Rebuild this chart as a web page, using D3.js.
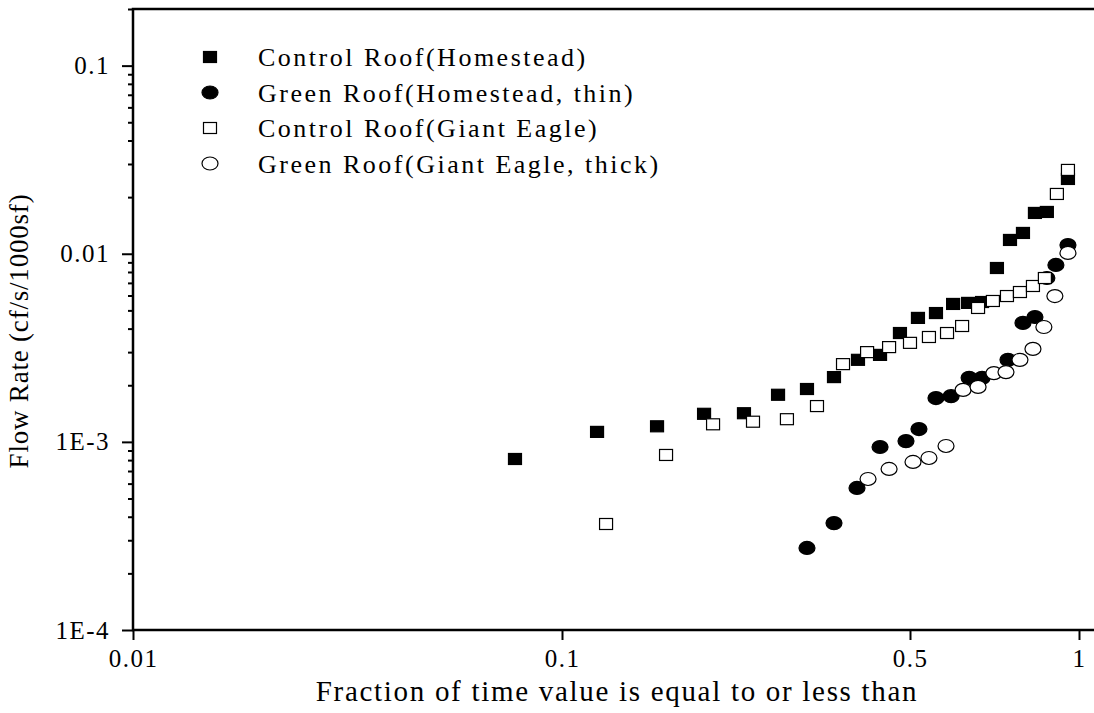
<!DOCTYPE html>
<html>
<head>
<meta charset="utf-8">
<script src="https://cdn.jsdelivr.net/npm/d3@7"></script>
<style>
  body { margin: 0; background: #fff; }
  text { font-family: "Liberation Serif", "Times New Roman", serif; fill: #000; }
</style>
</head>
<body>
<script>
const w = 1094;
const h = 713;

// series: [fraction, flow rate]
const controlHomestead = [
  [0.0777, 0.000811], [0.1176, 0.00113], [0.1552, 0.00121], [0.1929, 0.00141],
  [0.2320, 0.00142], [0.2716, 0.00178], [0.3105, 0.00191], [0.3518, 0.00221],
  [0.3931, 0.00273], [0.4353, 0.00290], [0.4773, 0.00379], [0.5166, 0.00456],
  [0.5562, 0.00484], [0.5967, 0.00541], [0.6345, 0.00548], [0.6720, 0.00554],
  [0.7142, 0.00840], [0.7535, 0.01184], [0.7947, 0.01290], [0.8347, 0.01648],
  [0.8765, 0.01668], [0.9557, 0.02498]
];
const greenHomestead = [
  [0.3105, 0.000273], [0.3518, 0.000370], [0.3913, 0.000569], [0.4353, 0.000939],
  [0.4908, 0.00101], [0.5187, 0.00117], [0.5562, 0.00171], [0.5918, 0.00175],
  [0.6372, 0.00219], [0.6720, 0.00219], [0.7473, 0.00273], [0.7947, 0.00429],
  [0.8347, 0.00461], [0.8765, 0.00743], [0.9096, 0.00872], [0.9557, 0.01113]
];
const controlGiantEagle = [
  [0.1226, 0.000366], [0.1618, 0.000852], [0.2011, 0.00124], [0.2419, 0.00128],
  [0.2830, 0.00132], [0.3252, 0.00155], [0.3668, 0.00259], [0.4100, 0.00300],
  [0.4539, 0.00319], [0.5000, 0.00336], [0.5404, 0.00361], [0.5820, 0.00379],
  [0.6191, 0.00413], [0.6610, 0.00515], [0.7025, 0.00561], [0.7442, 0.00596],
  [0.7849, 0.00626], [0.8279, 0.00674], [0.8694, 0.00743], [0.9133, 0.02079],
  [0.9557, 0.02790]
];
const greenGiantEagle = [
  [0.4118, 0.000635], [0.4539, 0.000718], [0.5062, 0.000782], [0.5404, 0.000821],
  [0.5796, 0.000951], [0.6217, 0.00189], [0.6610, 0.00196], [0.7054, 0.00232],
  [0.7412, 0.00235], [0.7849, 0.00273], [0.8279, 0.00312], [0.8658, 0.00408],
  [0.9058, 0.00596], [0.9557, 0.01010]
];

const seriesNames = [
  "Control Roof(Homestead)",
  "Green Roof(Homestead, thin)",
  "Control Roof(Giant Eagle)",
  "Green Roof(Giant Eagle, thick)"
];
const xTicks = [0.01, 0.1, 0.5, 1];
const xTickLabels = ["0.01", "0.1", "0.5", "1"];
const yTicks = [0.0001, 0.001, 0.01, 0.1];
const yTickLabels = ["1E-4", "1E-3", "0.01", "0.1"];

const series = [
  { data: controlHomestead, shape: 'square', fill: '#000' },
  { data: greenHomestead, shape: 'circle', fill: '#000' },
  { data: controlGiantEagle, shape: 'square', fill: '#fff' },
  { data: greenGiantEagle, shape: 'circle', fill: '#fff' }
];

const pLeft = 133, pRight = 1094, pTop = 9, pBottom = 630;

const svg = d3.select('body').append('svg').attr('width', w).attr('height', h);
svg.append('rect').attr('width', w).attr('height', h).attr('fill', '#fff');

// x axis of the original is stretched unevenly between its labelled ticks
const xScale = d3.scaleLog()
  .domain([0.01, 0.1, 0.5, 1, 1.063])
  .range([pLeft, 562, 910, 1079, pRight]);
const yScale = d3.scaleLog()
  .domain([0.0001, 0.2]).range([pBottom, pTop]);

// minor y ticks
const minor = [];
[0.0001, 0.001, 0.01, 0.1].forEach(d => {
  for (let k = 2; k <= 9; k++) if (d * k <= 0.2) minor.push(d * k);
});

svg.append('g')
  .attr('transform', 'translate(' + pLeft + ',0)')
  .call(d3.axisLeft(yScale).tickValues(minor).tickSize(5).tickFormat(''))
  .call(g => g.select('.domain').remove())
  .selectAll('line').attr('stroke', '#000').attr('stroke-width', 2);

const yAxis = svg.append('g')
  .attr('transform', 'translate(' + pLeft + ',0)')
  .call(d3.axisLeft(yScale).tickValues(yTicks).tickSize(11).tickPadding(12)
    .tickFormat((d, i) => yTickLabels[i]));
yAxis.select('.domain').remove();
yAxis.selectAll('line').attr('stroke', '#000').attr('stroke-width', 2);
yAxis.selectAll('text').attr('font-size', 25).attr('letter-spacing', 1.5)
  .attr('font-family', '"Liberation Serif", serif');

const xAxis = svg.append('g')
  .attr('transform', 'translate(0,' + pBottom + ')')
  .call(d3.axisBottom(xScale).tickValues(xTicks).tickSize(10).tickPadding(9)
    .tickFormat((d, i) => xTickLabels[i]));
xAxis.select('.domain').remove();
xAxis.selectAll('line').attr('stroke', '#000').attr('stroke-width', 2);
xAxis.selectAll('text').attr('font-size', 25).attr('letter-spacing', 1.5)
  .attr('font-family', '"Liberation Serif", serif');

// frame
svg.append('path')
  .attr('d', `M${pRight},${pTop}H${pLeft}V${pBottom}H${pRight}`)
  .attr('fill', 'none').attr('stroke', '#000').attr('stroke-width', 2.5);

function drawMarker(g, shape, fill) {
  if (shape === 'square') {
    g.append('rect').attr('x', -6.5).attr('y', -5.5).attr('width', 13).attr('height', 11)
      .attr('fill', fill).attr('stroke', '#000').attr('stroke-width', 1.2);
  } else {
    g.append('ellipse').attr('rx', 8).attr('ry', 6.5)
      .attr('fill', fill).attr('stroke', '#000').attr('stroke-width', 1.2);
  }
}

series.forEach(s => {
  svg.append('g').selectAll('g')
    .data(s.data)
    .enter()
    .append('g')
    .attr('transform', d => 'translate(' + xScale(d[0]) + ',' + yScale(d[1]) + ')')
    .each(function () { drawMarker(d3.select(this), s.shape, s.fill); });
});

// legend
const legend = svg.append('g');
series.forEach((s, i) => {
  const row = legend.append('g').attr('transform', 'translate(0,' + (57 + i * 35.5) + ')');
  drawMarker(row.append('g').attr('transform', 'translate(210,0)'), s.shape, s.fill);
  row.append('text')
    .attr('x', 258).attr('y', 9)
    .attr('font-size', 26)
    .attr('letter-spacing', 2.5)
    .text(seriesNames[i]);
});

// axis titles
svg.append('text')
  .attr('x', 617).attr('y', 701)
  .attr('text-anchor', 'middle')
  .attr('font-size', 29)
  .attr('letter-spacing', 1.7)
  .text('Fraction of time value is equal to or less than');

svg.append('text')
  .attr('transform', 'translate(28,331) rotate(-90)')
  .attr('text-anchor', 'middle')
  .attr('font-size', 27)
  .attr('letter-spacing', 0.8)
  .text('Flow Rate (cf/s/1000sf)');
</script>
</body>
</html>
